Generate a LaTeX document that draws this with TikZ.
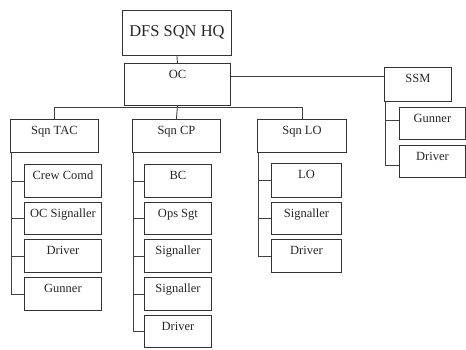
\documentclass[tikz,border=0pt]{standalone}
\usepackage{fontspec}
\setmainfont{Liberation Serif}
\begin{document}
\begin{tikzpicture}[x=1pt,y=-1pt,
  line width=0.9pt,
  every node/.style={font=\fontsize{12.5}{14}\selectfont, text=black!85},
  box/.style={draw=black!80, rectangle, anchor=north west, inner xsep=0pt,
    inner ysep=6pt, text height=9pt, text depth=12pt, minimum height=33pt},
  conn/.style={draw=black!75, line width=0.9pt}]
\useasboundingbox (0,0) rectangle (466,349);
% top
\node[box, minimum width=109pt, minimum height=45pt, inner ysep=0pt, text height=11.5pt, text depth=3.5pt, font=\fontsize{16.5}{18}\selectfont] (hq) at (122,10) {DFS SQN HQ};
\node[box, minimum width=106pt, text depth=21pt, minimum height=42pt] (oc) at (124,63) {OC};
\node[box, minimum width=67pt, minimum height=34pt, text depth=13pt] (ssm) at (384,67) {SSM};
% squadrons
\node[box, minimum width=88pt] (tac) at (10,119) {Sqn TAC};
\node[box, minimum width=88pt] (cp) at (132,119) {Sqn CP};
\node[box, minimum width=89pt] (lo) at (257,119) {Sqn LO};
% TAC children
\node[box, minimum width=77pt] (t1) at (24,164) {Crew Comd};
\node[box, minimum width=77pt, minimum height=32pt, text depth=11pt] (t2) at (24,202) {OC Signaller};
\node[box, minimum width=77pt] (t3) at (24,239) {Driver};
\node[box, minimum width=77pt] (t4) at (24,277) {Gunner};
% CP children
\node[box, minimum width=67pt] (c1) at (144,164) {BC};
\node[box, minimum width=67pt, minimum height=32pt, text depth=11pt] (c2) at (144,202) {Ops Sgt};
\node[box, minimum width=67pt] (c3) at (144,239) {Signaller};
\node[box, minimum width=67pt] (c4) at (144,277) {Signaller};
\node[box, minimum width=67pt, minimum height=32pt, text depth=11pt] (c5) at (144,315) {Driver};
% LO children
\node[box, minimum width=70pt, minimum height=34pt, text depth=13pt] (l1) at (271,163) {LO};
\node[box, minimum width=70pt, minimum height=32pt, text depth=11pt] (l2) at (271,202) {Signaller};
\node[box, minimum width=70pt] (l3) at (271,239) {Driver};
% SSM children
\node[box, minimum width=66pt, minimum height=32pt, text depth=11pt] (s1) at (399,107) {Gunner};
\node[box, minimum width=66pt, minimum height=32pt, text depth=11pt] (s2) at (399,145) {Driver};
% connectors
\draw[conn] (hq.south) -- (oc.north);
\draw[conn] ([yshift=-13pt]oc.north east) -- ([yshift=-13pt]oc.north east -| ssm.west);
\draw[conn] (oc.south) -- (cp.north);
\draw[conn] (tac.north) -- ++(0,-12) -| (lo.north);
\foreach \c in {t1,t2,t3,t4} \draw[conn] ([xshift=1pt]tac.south west) |- (\c.west);
\foreach \c in {c1,c2,c3,c4,c5} \draw[conn] ([xshift=1pt]cp.south west) |- (\c.west);
\foreach \c in {l1,l2,l3} \draw[conn] ([xshift=1pt]lo.south west) |- (\c.west);
\draw[conn] ([xshift=1pt]ssm.south west) |- ([yshift=3pt]s1.west);
\draw[conn] ([xshift=1pt]ssm.south west) |- ([yshift=-4pt]s2.west);
\end{tikzpicture}
\end{document}
